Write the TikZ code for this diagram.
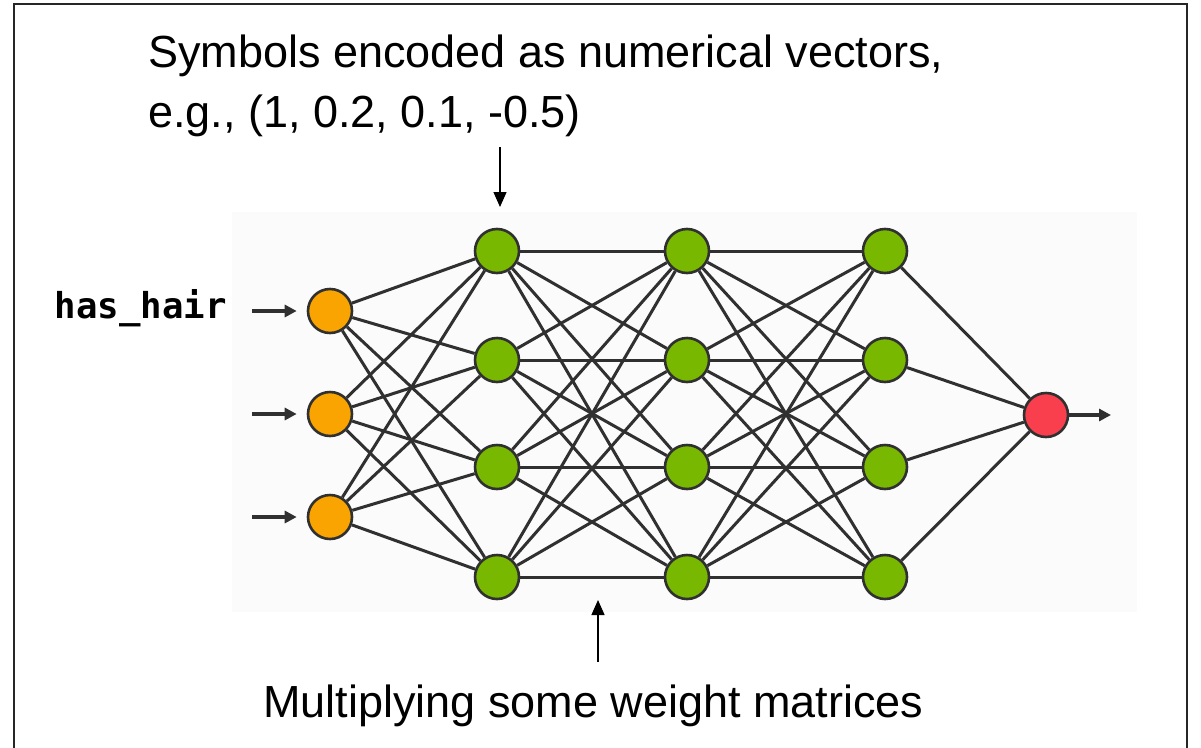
\documentclass[tikz,border=0pt]{standalone}
\usepackage{fontspec}
\setmainfont{Liberation Sans}
\newfontfamily\codefont{DejaVu Sans Mono}
\usetikzlibrary{arrows.meta}

\definecolor{inorange}{HTML}{F9A400}
\definecolor{hidgreen}{HTML}{78B800}
\definecolor{outred}{HTML}{F93F4E}
\definecolor{wire}{HTML}{303030}
\definecolor{panelgrey}{HTML}{FBFBFB}

\pgfdeclarelayer{background}
\pgfsetlayers{background,main}

\tikzset{
  neuron/.style={circle, draw=wire, line width=2.6pt, minimum size=44pt, inner sep=0pt},
  conn/.style={draw=wire, line width=3pt},
  feedarrow/.style={draw=wire, line width=3.4pt, -{Triangle[length=12pt,width=12pt]}},
  notearrow/.style={draw=black, line width=1.3pt, -{Triangle[length=15pt,width=13pt]}},
  bigtext/.style={anchor=base west, inner sep=0pt, font=\fontsize{45}{54}\selectfont},
}

\begin{document}
\begin{tikzpicture}[x=1pt,y=-1pt]
\useasboundingbox (0,0) rectangle (1201,747);

% outer frame (open at the bottom)
\draw[line width=2.7pt, black!85] (14,752) -- (14,4) -- (1187,4) -- (1187,752);

% layers
\node[neuron, fill=inorange] (i1) at (330,311) {};
\node[neuron, fill=inorange] (i2) at (330,414) {};
\node[neuron, fill=inorange] (i3) at (330,517) {};

\foreach \n/\y in {1/251,2/360,3/467,4/577}{
  \node[neuron, fill=hidgreen] (a\n) at (497,\y) {};
  \node[neuron, fill=hidgreen] (b\n) at (687,\y) {};
  \node[neuron, fill=hidgreen] (c\n) at (885,\y) {};
}
\node[neuron, fill=outred] (o) at (1046,415) {};

% page, panel and weights underneath the neurons
\begin{pgfonlayer}{background}
  \fill[white] (0,0) rectangle (1201,747);
  \fill[panelgrey] (232,212) rectangle (1137,612);
  \foreach \p in {1,2,3}{
    \foreach \q in {1,2,3,4}{
      \draw[conn] (i\p) -- (a\q);
    }
  }
  \foreach \p in {1,2,3,4}{
    \foreach \q in {1,2,3,4}{
      \draw[conn] (a\p) -- (b\q);
      \draw[conn] (b\p) -- (c\q);
    }
    \draw[conn] (c\p) -- (o);
  }
\end{pgfonlayer}

% inputs and output
\coordinate (s1) at (252,311);
\coordinate (s2) at (252,414);
\coordinate (s3) at (252,517);
\draw[feedarrow, shorten >=10pt] (s1) -- (i1);
\draw[feedarrow, shorten >=10pt] (s2) -- (i2);
\draw[feedarrow, shorten >=10pt] (s3) -- (i3);
\coordinate (oend) at (1111,415);
\draw[feedarrow] (o) -- (oend);

\node[anchor=base east, inner sep=0pt, font=\codefont\bfseries\fontsize{35.7}{40}\selectfont] (feat) at (227,318) {has\_hair};

% annotations
\node[bigtext] (top1) at (148,67) {Symbols encoded as numerical vectors,};
\node[bigtext] (top2) at (148,127) {e.g., (1, 0.2, 0.1, -0.5)};
\coordinate (dstart) at (500,147);
\coordinate (dtip) at (500,207);
\draw[notearrow] (dstart) -- (dtip);

\coordinate (ustart) at (598,662);
\coordinate (utip) at (598,600);
\draw[notearrow] (ustart) -- (utip);
\node[bigtext] (bottom) at (263,717) {Multiplying some weight matrices};
\end{tikzpicture}
\end{document}
